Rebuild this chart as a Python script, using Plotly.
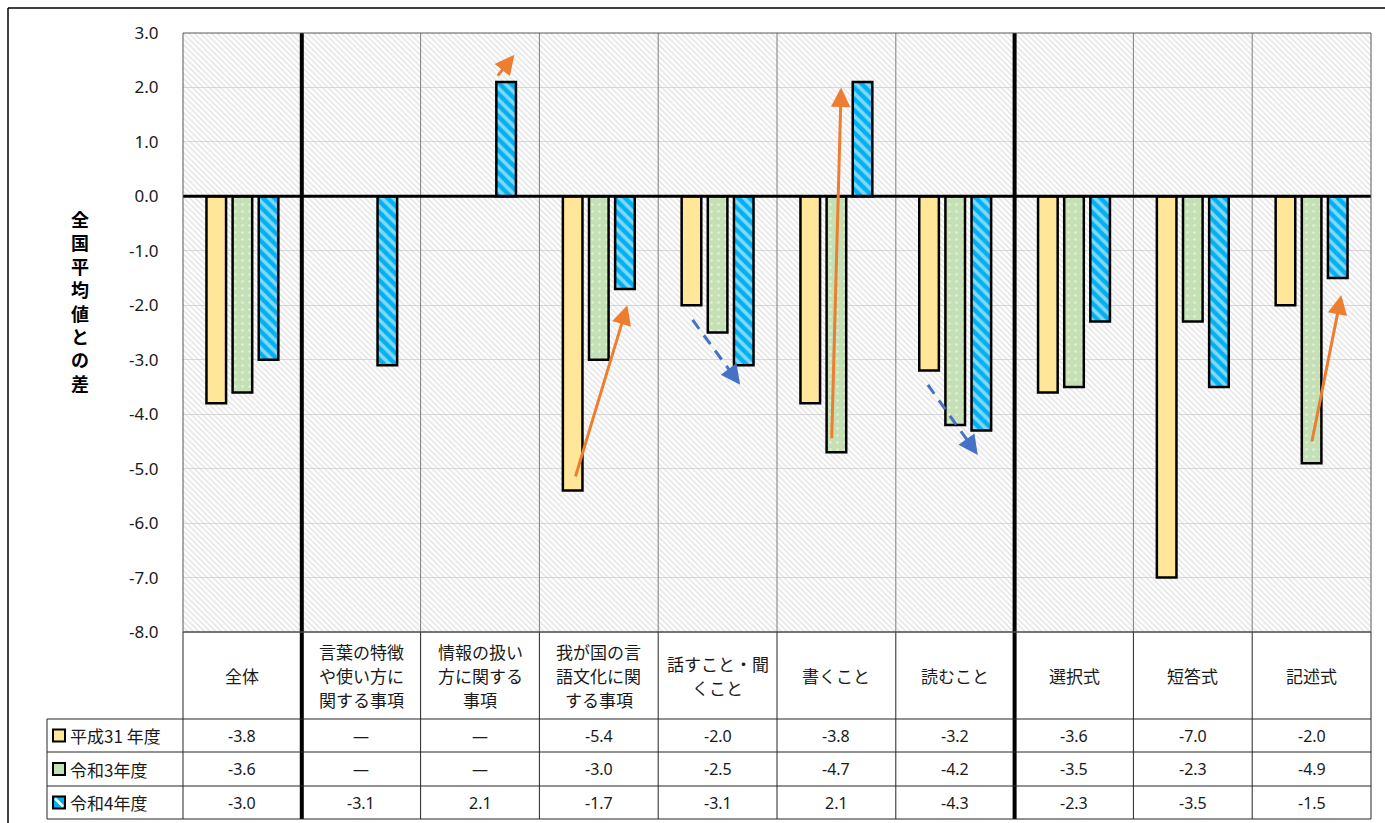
import plotly.graph_objects as go

# ---- data -------------------------------------------------------------
categories = [
    "全体",
    "言葉の特徴<br>や使い方に<br>関する事項",
    "情報の扱い<br>方に関する<br>事項",
    "我が国の言<br>語文化に関<br>する事項",
    "話すこと・聞<br>くこと",
    "書くこと",
    "読むこと",
    "選択式",
    "短答式",
    "記述式",
]
series_names = ["平成31 年度", "令和3年度", "令和4年度"]
h31 = [-3.8, None, None, -5.4, -2.0, -3.8, -3.2, -3.6, -7.0, -2.0]
r3 = [-3.6, None, None, -3.0, -2.5, -4.7, -4.2, -3.5, -2.3, -4.9]
r4 = [-3.0, -3.1, 2.1, -1.7, -3.1, 2.1, -4.3, -2.3, -3.5, -1.5]
y_ticks = [3.0, 2.0, 1.0, 0.0, -1.0, -2.0, -3.0, -4.0, -5.0, -6.0, -7.0, -8.0]
y_title = "全国平均値との差"

# trend arrows: (tail_x, tail_y, head_x, head_y) in axis units
rise_arrows = [
    (2.14, 2.19, 2.29, 2.60),
    (2.80, -5.17, 3.24, -2.00),
    (4.96, -4.47, 5.04, 2.00),
    (9.00, -4.53, 9.25, -1.81),
]
fall_arrows = [
    (3.79, -2.27, 4.19, -3.46),
    (5.77, -3.46, 6.19, -4.75),
]

# ---- geometry of the page --------------------------------------------
W, H = 1385, 823
ML, MR, MT, MB = 183, 14, 33, 191
PW, PH = W - ML - MR, H - MT - MB
n = len(categories)


def py(pix):
    """pixel row -> paper y"""
    return (H - MB - pix) / PH


def px(pix):
    """pixel column -> paper x"""
    return (pix - ML) / PW


x = list(range(n))
fig = go.Figure()

# hatched plot-area background
fig.add_trace(go.Bar(
    x=[(n - 1) / 2], y=[11], base=[-8], width=[n],
    marker=dict(color="rgba(0,0,0,0)", line=dict(width=0),
                pattern=dict(shape="\\", fgcolor="#cccccc",
                             bgcolor="rgba(0,0,0,0)", size=4, solidity=0.4)),
    hoverinfo="skip", showlegend=False,
))

bar_w = 0.165
styles = [
    dict(color="#FFE699", pattern=dict(shape="")),
    dict(color="#C5E0B4", pattern=dict(shape=".", fgcolor="white",
                                       size=7, solidity=0.1)),
    dict(color="#00B0F0", pattern=dict(shape="\\", fgcolor="white",
                                       size=8, solidity=0.45)),
]
offsets = [-0.22 - bar_w / 2, -bar_w / 2, 0.22 - bar_w / 2]
for name, vals, st, off in zip(series_names, [h31, r3, r4], styles, offsets):
    fig.add_trace(go.Bar(
        x=x, y=vals, name=name, width=bar_w, offset=off,
        marker=dict(color=st["color"], pattern=st["pattern"],
                    line=dict(color="black", width=2.5)),
        showlegend=False,
    ))

annots = []

# rising trends: solid orange arrows
for tx, ty, hx, hy in rise_arrows:
    annots.append(dict(x=hx, y=hy, ax=tx, ay=ty, xref="x", yref="y",
                       axref="x", ayref="y", showarrow=True, text="",
                       arrowhead=2, arrowsize=1.3, arrowwidth=3,
                       arrowcolor="#ED7D31", standoff=0))

# falling trends: dashed blue arrows
for tx, ty, hx, hy in fall_arrows:
    mx, my = tx + (hx - tx) * 0.8, ty + (hy - ty) * 0.8
    fig.add_trace(go.Scatter(
        x=[tx, mx], y=[ty, my], mode="lines",
        line=dict(color="#4472C4", width=3, dash="11px,8px"),
        hoverinfo="skip", showlegend=False,
    ))
    annots.append(dict(x=hx, y=hy, ax=mx, ay=my, xref="x", yref="y",
                       axref="x", ayref="y", showarrow=True, text="",
                       arrowhead=2, arrowsize=1.3, arrowwidth=3,
                       arrowcolor="#4472C4", standoff=0))

# ---- data table below the plot ---------------------------------------
row_lines = [632, 719, 752, 786, 819]
head_mid = (row_lines[0] + row_lines[1]) / 2
row_mids = [(row_lines[i] + row_lines[i + 1]) / 2 for i in range(1, 4)]
table_left = 47
line_col = "#262626"
line_step = 24  # spacing of wrapped header lines

shapes = []
# category boundaries through plot and table
for i in range(n - 1):
    xb = i + 0.5
    thick = i in (0, 6)
    shapes.append(dict(type="line", xref="x", yref="paper", x0=xb, x1=xb,
                       y0=0, y1=1, layer="above",
                       line=dict(color="black" if thick else "#7f7f7f",
                                 width=4 if thick else 1)))
    shapes.append(dict(type="line", xref="x", yref="paper", x0=xb, x1=xb,
                       y0=py(row_lines[-1]), y1=0,
                       line=dict(color="black" if thick else line_col,
                                 width=4 if thick else 1)))
# outer table edges
for xp in (px(ML), px(W - MR)):
    shapes.append(dict(type="line", xref="paper", yref="paper", x0=xp, x1=xp,
                       y0=py(row_lines[-1]), y1=0,
                       line=dict(color=line_col, width=1)))
shapes.append(dict(type="line", xref="paper", yref="paper",
                   x0=px(table_left), x1=px(table_left),
                   y0=py(row_lines[-1]), y1=py(row_lines[1]),
                   line=dict(color=line_col, width=1)))
for k, r in enumerate(row_lines):
    x0 = px(ML) if k == 0 else px(table_left)
    shapes.append(dict(type="line", xref="paper", yref="paper", x0=x0,
                       x1=px(W - MR), y0=py(r), y1=py(r),
                       line=dict(color=line_col, width=1)))
# zero line on top of the hatch
shapes.append(dict(type="line", xref="paper", yref="y", x0=0, x1=1,
                   y0=0, y1=0, layer="above",
                   line=dict(color="black", width=3)))
# plot frame
shapes.append(dict(type="rect", xref="paper", yref="paper", x0=0, x1=1,
                   y0=0, y1=1, layer="above",
                   line=dict(color="#595959", width=1)))
# outer chart frame (top and left)
shapes.append(dict(type="line", xref="paper", yref="paper", x0=px(8),
                   x1=px(W + 5), y0=py(8), y1=py(8),
                   line=dict(color="black", width=1.5)))
shapes.append(dict(type="line", xref="paper", yref="paper", x0=px(8),
                   x1=px(8), y0=py(8), y1=py(H + 5),
                   line=dict(color="black", width=1.5)))

# legend keys in the table
key_fill = ["#FFE699", "#C5E0B4", "#00B0F0"]
for k, ym in enumerate(row_mids):
    shapes.append(dict(type="rect", xref="paper", yref="paper",
                       x0=px(53), x1=px(65), y0=py(ym + 6), y1=py(ym - 6),
                       fillcolor=key_fill[k],
                       line=dict(color="black", width=2)))
shapes.append(dict(type="line", xref="paper", yref="paper",
                   x0=px(55), x1=px(63), y0=py(row_mids[2] - 4),
                   y1=py(row_mids[2] + 4),
                   line=dict(color="white", width=2.5)))

# header labels, one annotation per wrapped line
for i, lab in enumerate(categories):
    parts = lab.split("<br>")
    first = head_mid - (len(parts) - 1) * line_step / 2
    for j, part in enumerate(parts):
        annots.append(dict(x=i, y=py(first + j * line_step), xref="x",
                           yref="paper", yanchor="middle", text=part,
                           showarrow=False,
                           font=dict(size=17, color="#1a1a1a",
                                     family="Noto Sans CJK JP")))
for k, vals in enumerate([h31, r3, r4]):
    for i, v in enumerate(vals):
        annots.append(dict(x=i, y=py(row_mids[k]), xref="x", yref="paper",
                           yanchor="middle",
                           text="—" if v is None else f"{v:.1f}",
                           showarrow=False,
                           font=dict(size=16, color="#1a1a1a",
                                     family="Noto Sans")))
    annots.append(dict(x=px(68), y=py(row_mids[k]), xref="paper",
                       yref="paper", xanchor="left", yanchor="middle",
                       text=series_names[k], showarrow=False,
                       font=dict(size=17, color="#1a1a1a",
                                 family="Noto Sans CJK JP")))
annots.append(dict(x=px(80), y=py(301), xref="paper", yref="paper",
                   xanchor="center", yanchor="middle",
                   text="<b>" + "<br>".join(y_title) + "</b>",
                   showarrow=False, align="center",
                   font=dict(size=18, color="black",
                             family="Noto Sans CJK JP")))

fig.update_layout(
    width=W, height=H,
    margin=dict(l=ML, r=MR, t=MT, b=MB),
    barmode="overlay",
    paper_bgcolor="white", plot_bgcolor="white",
    showlegend=False,
    shapes=shapes,
    annotations=annots,
    xaxis=dict(range=[-0.5, n - 0.5], showticklabels=False, showgrid=False,
               zeroline=False, fixedrange=True),
    yaxis=dict(range=[-8, 3], tickvals=y_ticks,
               ticktext=[f"{t:.1f}" for t in y_ticks],
               showgrid=True, gridcolor="#d9d9d9", gridwidth=1,
               zeroline=False,
               ticks="outside", ticklen=20, tickcolor="rgba(0,0,0,0)",
               tickfont=dict(size=17, color="#1a1a1a", family="Noto Sans")),
    font=dict(family="Noto Sans CJK JP"),
)

fig.write_html("out.html")
